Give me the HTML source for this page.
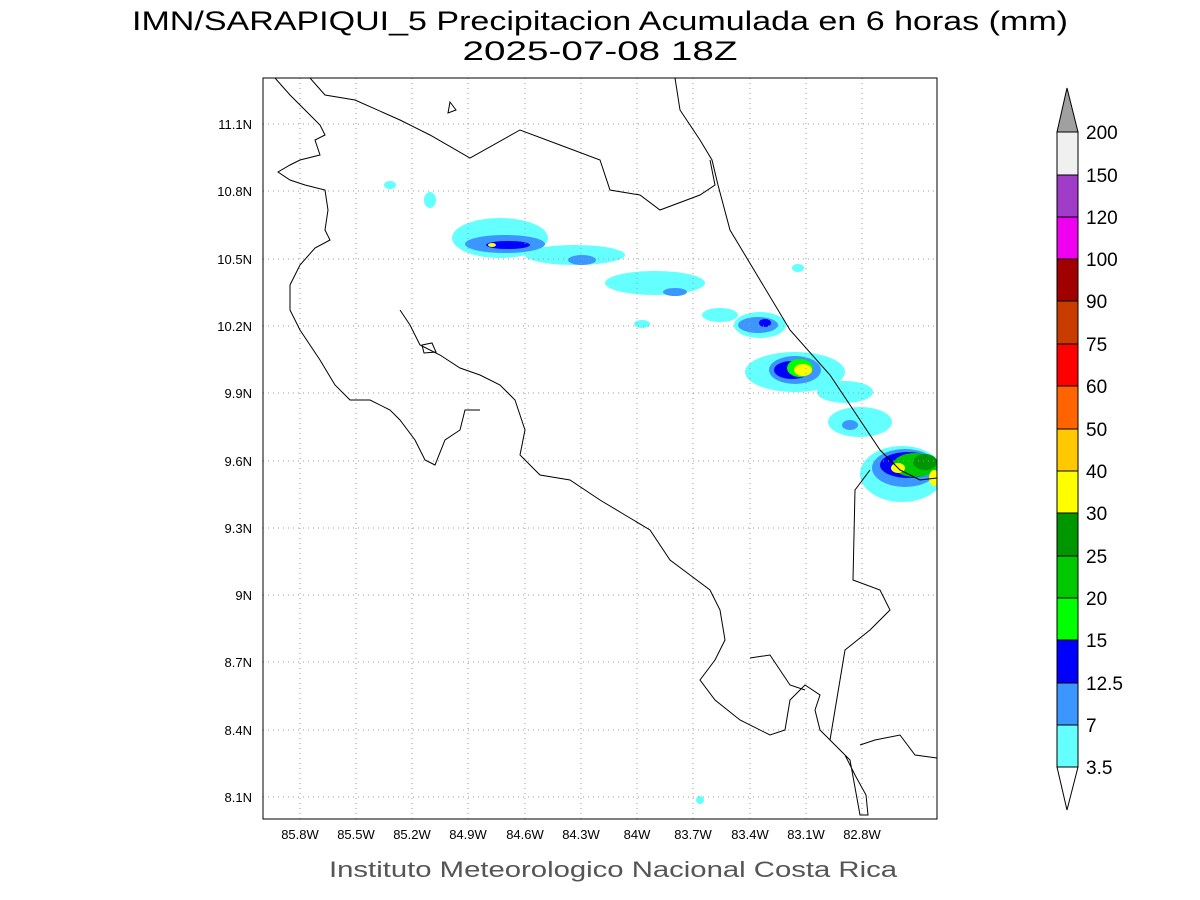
<!DOCTYPE html>
<html><head><meta charset="utf-8"><style>
html,body{margin:0;padding:0;background:#fff;width:1200px;height:900px;overflow:hidden}
svg{display:block}
text{font-family:"Liberation Sans",sans-serif}
</style></head><body>
<svg width="1200" height="900" viewBox="0 0 1200 900" xmlns="http://www.w3.org/2000/svg">
<text x="600" y="30" font-size="27" text-anchor="middle" fill="#000" textLength="936" lengthAdjust="spacingAndGlyphs">IMN/SARAPIQUI_5 Precipitacion Acumulada en 6 horas (mm)</text>
<text x="600" y="60" font-size="27" text-anchor="middle" fill="#000" textLength="275" lengthAdjust="spacingAndGlyphs">2025-07-08 18Z</text>
<defs><clipPath id="c"><rect x="263" y="78" width="674" height="741"/></clipPath></defs>
<g clip-path="url(#c)">
<g>
<ellipse cx="500" cy="238" rx="48" ry="20" fill="#64ffff"/>
<ellipse cx="575" cy="255" rx="50" ry="10" fill="#64ffff"/>
<ellipse cx="655" cy="283" rx="50" ry="12" fill="#64ffff"/>
<ellipse cx="720" cy="315" rx="18" ry="7" fill="#64ffff"/>
<ellipse cx="760" cy="325" rx="26" ry="13" fill="#64ffff"/>
<ellipse cx="795" cy="372" rx="50" ry="20" fill="#64ffff"/>
<ellipse cx="845" cy="392" rx="28" ry="11" fill="#64ffff"/>
<ellipse cx="860" cy="422" rx="32" ry="15" fill="#64ffff"/>
<ellipse cx="902" cy="474" rx="42" ry="28" fill="#64ffff"/>
<ellipse cx="390" cy="185" rx="6" ry="4" fill="#64ffff"/>
<ellipse cx="430" cy="200" rx="6" ry="8" fill="#64ffff"/>
<ellipse cx="642" cy="324" rx="8" ry="4" fill="#64ffff"/>
<ellipse cx="798" cy="268" rx="6" ry="4" fill="#64ffff"/>
<ellipse cx="700" cy="800" rx="4" ry="4" fill="#64ffff"/>
<ellipse cx="505" cy="244" rx="40" ry="9" fill="#3c96ff"/>
<ellipse cx="582" cy="260" rx="14" ry="5" fill="#3c96ff"/>
<ellipse cx="675" cy="292" rx="12" ry="4" fill="#3c96ff"/>
<ellipse cx="758" cy="325" rx="20" ry="8" fill="#3c96ff"/>
<ellipse cx="795" cy="370" rx="26" ry="14" fill="#3c96ff"/>
<ellipse cx="850" cy="425" rx="8" ry="5" fill="#3c96ff"/>
<ellipse cx="905" cy="468" rx="33" ry="19" fill="#3c96ff"/>
<ellipse cx="508" cy="245" rx="22" ry="4" fill="#0000ff"/>
<ellipse cx="765" cy="323" rx="6" ry="4" fill="#0000ff"/>
<ellipse cx="792" cy="370" rx="18" ry="9" fill="#0000ff"/>
<ellipse cx="908" cy="465" rx="28" ry="13" fill="#0000ff"/>
<ellipse cx="800" cy="368" rx="13" ry="9" fill="#00ff00"/>
<ellipse cx="915" cy="465" rx="22" ry="12" fill="#00c800"/>
<ellipse cx="925" cy="462" rx="12" ry="8" fill="#009600"/>
<ellipse cx="803" cy="370" rx="9" ry="6" fill="#ffff00"/>
<ellipse cx="898" cy="468" rx="7" ry="5" fill="#ffff00"/>
<ellipse cx="934" cy="478" rx="5" ry="8" fill="#ffff00"/>
<ellipse cx="492" cy="245" rx="4" ry="2" fill="#ffff00"/>
</g>
<g stroke="#999" stroke-width="1" stroke-dasharray="1,4">
<path d="M300 78V819M356 78V819M412 78V819M468 78V819M525 78V819M581 78V819M637 78V819M693 78V819M750 78V819M806 78V819M862 78V819"/>
<path d="M263 124H937M263 191H937M263 259H937M263 326H937M263 393H937M263 461H937M263 528H937M263 595H937M263 662H937M263 730H937M263 797H937"/>
</g>
<g fill="none" stroke="#000" stroke-width="1">
<path d="M275 78L290 95L305 110L320 125L325 135L315 140L320 155L300 160L290 165L278 172L290 180L305 185L325 190L328 210L325 230L330 240L315 248L300 265L290 285L290 310L300 330L320 360L335 385L350 400L370 400L390 410L400 420L415 440L425 460L435 465L445 440L460 430L465 410L480 410"/>
<path d="M400 310L410 325L420 345L440 355L460 368L480 375L500 385L515 400L525 430L520 455L540 475L570 480L600 500L625 515L650 530L670 560L690 575L710 590L720 610L725 640L715 660L700 680L715 700L740 720L770 735L785 730L790 700L805 685L820 695L815 710L820 730L830 740L850 760L860 815L868 815L866 795L855 775L845 755L835 745"/>
<path d="M750 658L770 655L790 685L805 690"/>
<path d="M422 345L432 343L436 352L424 353Z"/>
<path d="M310 78L325 95L355 100L400 120L430 135L470 158L520 130L560 145L600 160L610 190L640 195L660 210L700 195L715 185L710 160"/>
<path d="M675 78L680 110L700 140L712 160L718 185L730 230L760 280L790 330L830 375L860 420L880 450L900 470L920 480L937 478"/>
<path d="M870 470L855 490L853 580L880 590L890 610L870 630L845 650L830 740"/>
<path d="M937 758L915 755L900 735L875 740L860 745"/>
<path d="M450 102L456 110L448 113Z"/>
</g>
</g>
<rect x="263" y="78" width="674" height="741" fill="none" stroke="#000" stroke-width="1"/>
<g font-size="13" fill="#000" text-anchor="end">
<text x="252" y="129">11.1N</text><text x="252" y="196">10.8N</text><text x="252" y="264">10.5N</text><text x="252" y="331">10.2N</text><text x="252" y="398">9.9N</text><text x="252" y="466">9.6N</text><text x="252" y="533">9.3N</text><text x="252" y="600">9N</text><text x="252" y="667">8.7N</text><text x="252" y="735">8.4N</text><text x="252" y="802">8.1N</text>
</g>
<g font-size="13" fill="#000" text-anchor="middle">
<text x="300" y="839">85.8W</text><text x="356" y="839">85.5W</text><text x="412" y="839">85.2W</text><text x="468" y="839">84.9W</text><text x="525" y="839">84.6W</text><text x="581" y="839">84.3W</text><text x="637" y="839">84W</text><text x="693" y="839">83.7W</text><text x="750" y="839">83.4W</text><text x="806" y="839">83.1W</text><text x="862" y="839">82.8W</text>
</g>
<text x="613" y="877" font-size="22" text-anchor="middle" fill="#555" textLength="568" lengthAdjust="spacingAndGlyphs">Instituto Meteorologico Nacional Costa Rica</text>
<g stroke="#000" stroke-width="1">
<path d="M1057 132L1067 88L1078 132Z" fill="#a0a0a0"/>
<rect x="1057" y="132" width="21" height="43" fill="#f0f0f0"/>
<rect x="1057" y="175" width="21" height="42" fill="#a03cc8"/>
<rect x="1057" y="217" width="21" height="42" fill="#f000f0"/>
<rect x="1057" y="259" width="21" height="42" fill="#a00000"/>
<rect x="1057" y="301" width="21" height="43" fill="#c83c00"/>
<rect x="1057" y="344" width="21" height="42" fill="#ff0000"/>
<rect x="1057" y="386" width="21" height="43" fill="#ff6400"/>
<rect x="1057" y="429" width="21" height="42" fill="#ffc800"/>
<rect x="1057" y="471" width="21" height="42" fill="#ffff00"/>
<rect x="1057" y="513" width="21" height="43" fill="#009600"/>
<rect x="1057" y="556" width="21" height="42" fill="#00c800"/>
<rect x="1057" y="598" width="21" height="42" fill="#00ff00"/>
<rect x="1057" y="640" width="21" height="43" fill="#0000ff"/>
<rect x="1057" y="683" width="21" height="42" fill="#3c96ff"/>
<rect x="1057" y="725" width="21" height="42" fill="#64ffff"/>
<path d="M1057 767L1067 810L1078 767Z" fill="#fff"/>
</g>
<g font-size="19" fill="#000">
<text x="1086" y="139">200</text><text x="1086" y="182">150</text><text x="1086" y="224">120</text><text x="1086" y="266">100</text><text x="1086" y="308">90</text><text x="1086" y="351">75</text><text x="1086" y="393">60</text><text x="1086" y="436">50</text><text x="1086" y="478">40</text><text x="1086" y="520">30</text><text x="1086" y="563">25</text><text x="1086" y="605">20</text><text x="1086" y="647">15</text><text x="1086" y="690">12.5</text><text x="1086" y="732">7</text><text x="1086" y="774">3.5</text>
</g>
</svg>
</body></html>
